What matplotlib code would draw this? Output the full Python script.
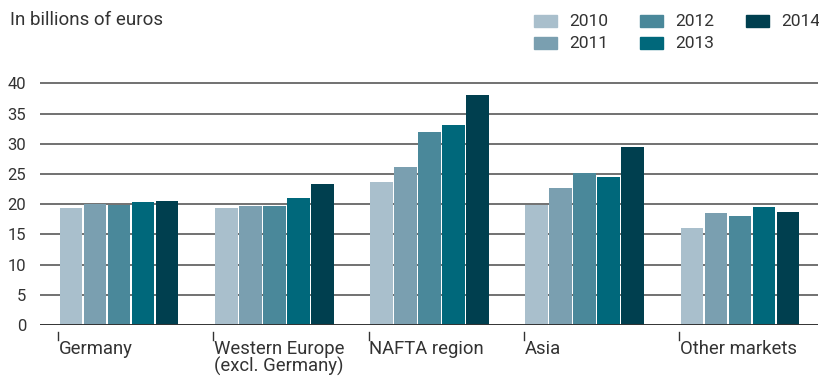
import matplotlib
matplotlib.use("Agg")
import matplotlib.pyplot as plt
from matplotlib.patches import Rectangle
import numpy as np

regions = ["Germany", "Western Europe\n(excl. Germany)", "NAFTA region", "Asia", "Other markets"]
years = ["2010", "2011", "2012", "2013", "2014"]
values = {
    "2010": [19.4, 19.4, 23.7, 19.8, 16.1],
    "2011": [20.0, 19.7, 26.2, 22.7, 18.5],
    "2012": [19.9, 19.7, 32.0, 25.2, 18.0],
    "2013": [20.4, 21.0, 33.1, 24.5, 19.5],
    "2014": [20.5, 23.3, 38.1, 29.5, 18.7],
}
colors = ["#a9bfcc", "#7a9fb0", "#4a889a", "#00687b", "#003f4f"]
yticks = [0, 5, 10, 15, 20, 25, 30, 35, 40]

plt.rcParams["font.family"] = ["Roboto", "DejaVu Sans"]
W, H = 819, 376
fig = plt.figure(figsize=(W / 100, H / 100), dpi=100)

# axes geometry in pixels
x0, x1 = 40, 818
y_zero, y_forty = 325, 83.3
ymax = 40.6
ppu = (y_zero - y_forty) / 40
y_top = y_zero - ymax * ppu
ax = fig.add_axes([x0 / W, 1 - y_zero / H, (x1 - x0) / W, (y_zero - y_top) / H])

pitch = 155.25  # px between groups
bw = 24 / pitch
centers = np.arange(len(regions))
first_center = 119
ax.set_xlim((x0 - first_center) / pitch, (x1 - first_center) / pitch)
ax.set_ylim(0, ymax)

for j, yr in enumerate(years):
    ax.bar(centers + (j - 2) * bw, values[yr], width=bw * 0.955, color=colors[j],
           zorder=3, linewidth=0)

for t in yticks[1:]:
    ax.axhline(t, color="#4a4a4a", linewidth=1.1, zorder=1)
ax.axhline(0, color="#333333", linewidth=1.4, zorder=4)

for s in ax.spines.values():
    s.set_visible(False)
ax.set_xticks([])
ax.set_yticks(yticks)
ax.set_yticklabels([str(t) for t in yticks], fontsize=12, color="#333333")
ax.tick_params(axis="y", length=0, pad=10)

# category markers and labels below the axis
for i, name in enumerate(regions):
    xl = centers[i] - 2.5 * bw - 0.006
    ax.plot([xl, xl], [-1.2, -2.5], color="#333333", linewidth=1, clip_on=False)
    ax.text(xl + 0.004, -2.5, name, ha="left", va="top", fontsize=13.3,
            color="#333333", linespacing=0.92)

fig.text(10 / W, 1 - 20 / H, "In billions of euros", ha="left", va="center",
         fontsize=13.5, color="#333333")

# legend
leg_pos = [(534, 21), (534, 43), (640, 21), (640, 43), (746, 21)]
for (lx, ly), yr, c in zip(leg_pos, years, colors):
    fig.patches.append(Rectangle((lx / W, 1 - (ly + 5.5) / H), 23 / W, 11 / H,
                                 transform=fig.transFigure, color=c))
    fig.text((lx + 35) / W, 1 - ly / H, yr, ha="left", va="center",
             fontsize=12.5, color="#333333")

fig.savefig("out.png", dpi=100)
